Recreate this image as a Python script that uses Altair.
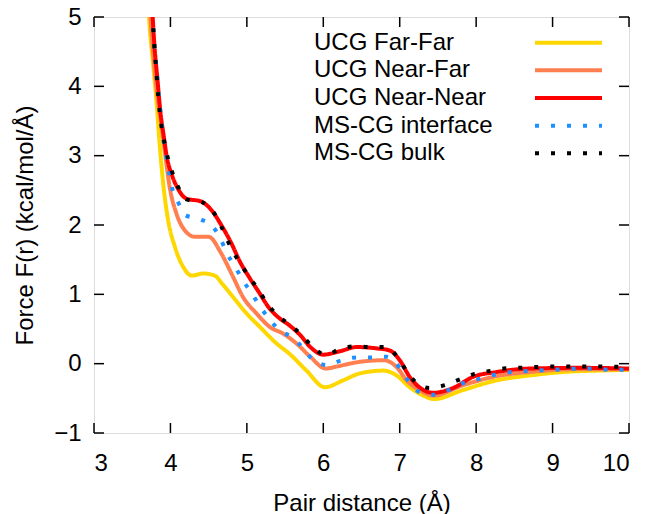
import altair as alt
import pandas as pd

names = ["UCG Far-Far", "UCG Near-Far", "UCG Near-Near", "MS-CG interface", "MS-CG bulk"]
colors = ["#FFD700", "#FF7F50", "#FF0000", "#1E90FF", "#000000"]
dashes = [[1, 0], [1, 0], [1, 0], [4, 12], [4, 12]]

x_far_far = [3.705, 3.72, 3.775, 3.82, 3.86, 3.91, 3.97, 4.06, 4.17, 4.28, 4.43, 4.58, 4.68, 4.82,
             5.00, 5.17, 5.39, 5.56, 5.78, 6.02, 6.26, 6.48, 6.79, 6.96, 7.13, 7.31, 7.45, 7.83,
             8.27, 8.70, 9.14, 9.58, 10.0]
y_far_far = [5.3, 5.0, 4.3, 3.75, 3.15, 2.55, 2.07, 1.68, 1.39, 1.27, 1.30, 1.27, 1.15, 0.96,
             0.72, 0.53, 0.29, 0.14, -0.10, -0.34, -0.24, -0.14, -0.10, -0.17, -0.34, -0.46,
             -0.51, -0.38, -0.24, -0.17, -0.12, -0.10, -0.09]

x_near_far = [3.725, 3.74, 3.78, 3.83, 3.88, 3.93, 3.99, 4.08, 4.19, 4.32, 4.50, 4.66, 4.82, 4.95,
              5.13, 5.30, 5.48, 5.65, 5.83, 6.03, 6.18, 6.44, 6.79, 6.96, 7.09, 7.27, 7.44, 7.83,
              8.27, 8.70, 9.36, 10.0]
y_near_far = [5.3, 5.0, 4.4, 3.85, 3.45, 3.03, 2.55, 2.16, 1.92, 1.83, 1.83, 1.60, 1.25, 0.96,
              0.72, 0.53, 0.43, 0.29, 0.10, -0.07, -0.04, 0.02, 0.05, -0.05, -0.24, -0.39, -0.46,
              -0.31, -0.18, -0.12, -0.08, -0.08]

x_near_near = [3.755, 3.768, 3.79, 3.83, 3.87, 3.91, 3.95, 4.02, 4.10, 4.21, 4.40, 4.54, 4.67,
               4.80, 4.91, 5.04, 5.17, 5.28, 5.41, 5.56, 5.70, 5.83, 6.00, 6.22, 6.44, 6.70, 6.87,
               7.00, 7.13, 7.31, 7.44, 7.70, 7.96, 8.27, 8.71, 9.36, 10.0]
y_near_near = [5.3, 5.0, 4.6, 4.1, 3.62, 3.30, 3.00, 2.72, 2.52, 2.38, 2.34, 2.21, 1.99, 1.73,
               1.47, 1.23, 1.01, 0.82, 0.67, 0.55, 0.41, 0.24, 0.13, 0.18, 0.24, 0.22, 0.19, 0.05,
               -0.19, -0.38, -0.42, -0.35, -0.19, -0.12, -0.07, -0.06, -0.07]

x_interface = [3.755, 3.768, 3.79, 3.83, 3.87, 3.91, 3.95, 3.99, 4.03, 4.10, 4.20, 4.40, 4.56,
               4.66, 4.74, 4.85, 4.95, 5.06, 5.17, 5.29, 5.42, 5.59, 5.74, 5.87, 6.05, 6.24, 6.44,
               6.63, 6.83, 7.00, 7.10, 7.24, 7.43, 7.64, 7.81, 8.01, 8.20, 8.40, 8.60, 8.79, 9.00,
               9.40, 9.84, 10.0]
y_interface = [5.3, 5.0, 4.6, 4.1, 3.62, 3.22, 2.95, 2.70, 2.50, 2.33, 2.14, 2.08, 1.97, 1.79,
               1.59, 1.39, 1.20, 1.02, 0.83, 0.65, 0.49, 0.38, 0.22, 0.05, -0.02, 0.05, 0.09, 0.09,
               0.10, -0.06, -0.23, -0.40, -0.45, -0.38, -0.29, -0.23, -0.17, -0.13, -0.11, -0.10,
               -0.09, -0.07, -0.09, -0.08]

x_bulk = [3.755, 3.768, 3.78, 3.81, 3.84, 3.88, 3.93, 3.97, 4.03, 4.10, 4.21, 4.41, 4.56, 4.66,
          4.74, 4.83, 4.94, 5.05, 5.16, 5.27, 5.41, 5.57, 5.72, 5.86, 6.03, 6.22, 6.42, 6.61, 6.82,
          6.96, 7.08, 7.21, 7.39, 7.59, 7.78, 7.97, 8.16, 8.36, 8.55, 8.75, 8.96, 9.50, 10.0]
y_bulk = [5.3, 5.0, 4.74, 4.30, 3.86, 3.45, 3.15, 2.95, 2.74, 2.55, 2.37, 2.33, 2.19, 1.99, 1.79,
          1.60, 1.40, 1.22, 1.05, 0.86, 0.69, 0.55, 0.41, 0.24, 0.13, 0.21, 0.25, 0.24, 0.24,
          0.11, -0.09, -0.27, -0.35, -0.31, -0.23, -0.15, -0.11, -0.07, -0.06, -0.05, -0.04,
          -0.04, -0.05]

x_ticks = [3, 4, 5, 6, 7, 8, 9, 10]
y_ticks = [-1, 0, 1, 2, 3, 4, 5]

series_x = [x_far_far, x_near_far, x_near_near, x_interface, x_bulk]
series_y = [y_far_far, y_near_far, y_near_near, y_interface, y_bulk]

W, H = 535, 416
FONT = "Liberation Sans"
FS = 24

xs = alt.Scale(domain=[3, 10], nice=False, zero=False)
ys = alt.Scale(domain=[-1, 5], nice=False, zero=False)
color_scale = alt.Scale(domain=names, range=colors)
dash_scale = alt.Scale(domain=names, range=dashes)

x_axis = alt.Axis(values=x_ticks, format="d", ticks=False, tickSize=0, domain=False, grid=False,
                  labelFontSize=FS, labelFont=FONT, labelColor="black", labelPadding=18,
                  title="Pair distance (Å)", titleFontSize=FS, titleFont=FONT,
                  titleFontWeight="normal", titleColor="black", titleY=77,
                  titleBaseline="alphabetic")
y_axis = alt.Axis(values=y_ticks, format="d", ticks=False, tickSize=0, domain=False, grid=False,
                  labelFontSize=FS, labelFont=FONT, labelColor="black", labelPadding=13,
                  title="Force F(r) (kcal/mol/Å)", titleFontSize=FS, titleFont=FONT,
                  titleFontWeight="normal", titleColor="black", titleX=-62, titleY=H / 2,
                  titleBaseline="alphabetic", titleAngle=270)

layers = []
for name, xv, yv in zip(names, series_x, series_y):
    df = pd.DataFrame({"r": xv, "F": yv, "series": name})
    layers.append(
        alt.Chart(df).mark_line(strokeWidth=4, interpolate="monotone", clip=True,
                                strokeCap="butt").encode(
            x=alt.X("r:Q", scale=xs, axis=x_axis),
            y=alt.Y("F:Q", scale=ys, axis=y_axis),
            color=alt.Color("series:N", scale=color_scale, legend=None),
            strokeDash=alt.StrokeDash("series:N", scale=dash_scale, legend=None),
        )
    )

xt = pd.DataFrame({"t": x_ticks})
yt = pd.DataFrame({"t": y_ticks})
tick_style = dict(color="black", strokeWidth=1.5)
ticks = [
    alt.Chart(xt).mark_rule(**tick_style).encode(
        x=alt.X("t:Q", scale=xs, axis=x_axis), y=alt.value(H), y2=alt.value(H - 10)),
    alt.Chart(xt).mark_rule(**tick_style).encode(
        x=alt.X("t:Q", scale=xs, axis=x_axis), y=alt.value(0), y2=alt.value(10)),
    alt.Chart(yt).mark_rule(**tick_style).encode(
        y=alt.Y("t:Q", scale=ys, axis=y_axis), x=alt.value(0), x2=alt.value(10)),
    alt.Chart(yt).mark_rule(**tick_style).encode(
        y=alt.Y("t:Q", scale=ys, axis=y_axis), x=alt.value(W - 10), x2=alt.value(W)),
]

main = alt.layer(*layers, *ticks)

leg_df = pd.DataFrame({"series": names})
leg_y = alt.Y("series:N", sort=names,
              scale=alt.Scale(type="point", domain=names, range=[25.7, 136.3], padding=0),
              axis=None)
leg_text = alt.Chart(leg_df).mark_text(align="left", baseline="middle", fontSize=FS,
                                       font=FONT, color="black").encode(
    x=alt.value(220), y=leg_y, text="series:N")
leg_line = alt.Chart(leg_df).mark_rule(strokeWidth=4, strokeCap="butt").encode(
    x=alt.value(441), x2=alt.value(508), y=leg_y,
    color=alt.Color("series:N", scale=color_scale, legend=None),
    strokeDash=alt.StrokeDash("series:N", scale=dash_scale, legend=None))
legend = alt.layer(leg_text, leg_line)

chart = alt.layer(main, legend).resolve_scale(y="independent").properties(
    width=W, height=H,
    autosize=alt.AutoSizeParams(type="none"),
    padding={"left": 94, "top": 17, "right": 19, "bottom": 81},
).configure_view(stroke="black", strokeWidth=1.5).configure(background="white")

chart.save("out.html", embed_options={"renderer": "svg", "actions": False})
